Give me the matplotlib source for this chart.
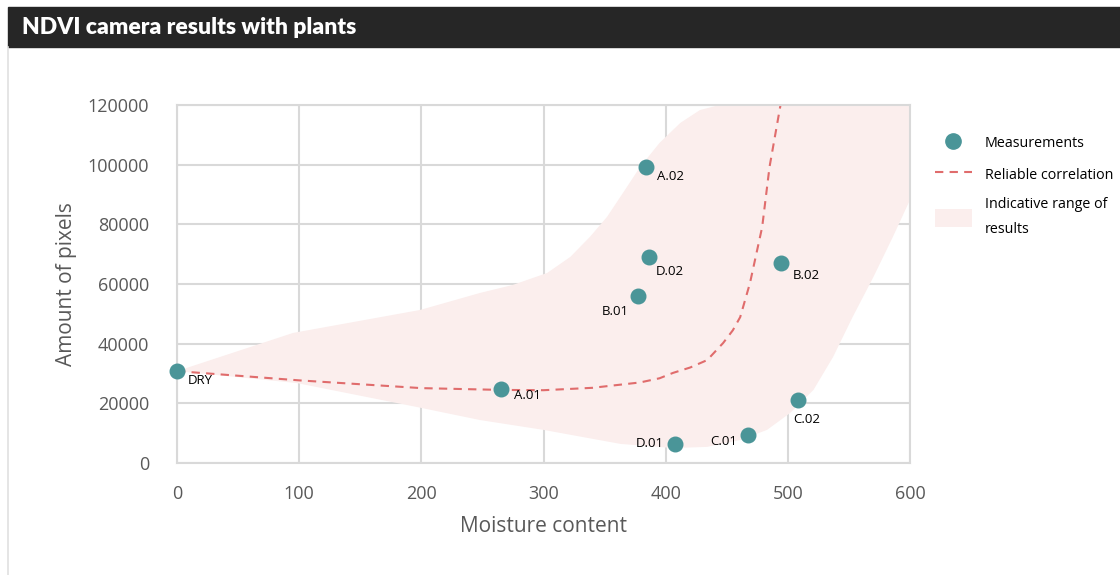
import matplotlib.pyplot as plt
from matplotlib.patches import Rectangle, Patch
from matplotlib.lines import Line2D

# measured samples
labels = ["DRY", "A.01", "A.02", "D.02", "B.01", "B.02", "C.02", "C.01", "D.01"]
moisture = [0, 265, 384, 386, 377, 494, 508, 467, 408]
pixels = [30800, 24800, 99200, 69000, 56000, 67000, 21100, 9400, 6400]

# trend line through the measurements
trend_x = [0, 100, 200, 265, 300, 340, 379, 395, 406, 420, 434, 447, 455, 461, 469, 479, 485, 494]
trend_y = [30800, 27700, 25100, 24500, 24400, 25200, 27000, 28400, 30200, 32000, 34500,
           40200, 44500, 48900, 60300, 79100, 99200, 120000]

# outline of the indicative range (upper edge left->right, then lower edge right->left)
band_x = [0, 95, 199, 248, 275, 303, 322, 338, 352, 365, 379, 395, 412, 428, 444,
          600, 600, 586, 570, 553, 537, 521, 502, 483, 461, 434, 406, 363, 300, 248,
          196, 98, 0]
band_y = [30800, 43600, 51300, 57000, 59700, 63700, 69100, 75800, 82500, 90500,
          99200, 107300, 114000, 118300, 120000,
          120000, 88200, 75800, 62300, 48900, 35500, 24500, 16800, 11100, 7700,
          5400, 5000, 6400, 11100, 14400, 18800, 26800, 30800]

# label offsets in pixels (dx, dy, ha)
label_pos = {
    "DRY": (11, -9, "left"), "A.01": (13, -6, "left"), "A.02": (11, -9, "left"),
    "D.02": (7, -14, "left"), "B.01": (-9, -16, "right"), "B.02": (12, -12, "left"),
    "C.02": (-4, -19, "left"), "C.01": (-10, -7, "right"), "D.01": (-12, 0, "right"),
}

teal = "#4a9598"
red = "#e06c6c"
pink = "#fbeeed"
grid = "#d9d9d9"
txt = "#595959"

plt.rcParams['font.family'] = ['Open Sans', 'DejaVu Sans']

fig = plt.figure(figsize=(11.2, 5.75), dpi=100)
fig.patch.set_facecolor("white")

# header bar
fig.patches.append(Rectangle((8 / 1120, 1 - 47 / 575), 1 - 8 / 1120, 40 / 575,
                             transform=fig.transFigure, color="#262626", zorder=0))
fig.lines.append(Line2D([8 / 1120, 8 / 1120], [0, 1 - 47 / 575], transform=fig.transFigure,
                        color="#e0e0e0", lw=1.2))
fig.text(22 / 1120, 1 - 27 / 575, "NDVI camera results with plants", color="white",
         fontsize=16.5, fontweight="heavy", va="center", ha="left", family=["Lato", "DejaVu Sans"])

ax = fig.add_axes([177 / 1120, 1 - 463 / 575, 733 / 1120, 358 / 575])
ax.set_xlim(0, 600)
ax.set_ylim(0, 120000)
ax.set_xticks(range(0, 601, 100))
ax.set_yticks(range(0, 120001, 20000))
ax.grid(True, color=grid, lw=1.5)
ax.set_axisbelow(True)
for s in ax.spines.values():
    s.set_color(grid)
    s.set_linewidth(1.5)
ax.tick_params(length=0, labelsize=13, labelcolor=txt)
ax.tick_params(axis="x", pad=16)
ax.tick_params(axis="y", pad=20)
ax.set_xlabel("Moisture content", fontsize=15, color=txt, labelpad=9)
ax.set_ylabel("Amount of pixels", fontsize=15, color=txt, labelpad=8)

ax.fill(band_x, band_y, color=pink, lw=0, zorder=1)
ax.plot(trend_x, trend_y, color=red, ls=(0, (4, 3)), lw=1.5, zorder=2)
ax.scatter(moisture, pixels, s=110, color=teal, zorder=3, clip_on=False)

for name, x, y in zip(labels, moisture, pixels):
    dx, dy, ha = label_pos[name]
    ax.annotate(name, (x, y), xytext=(dx * 0.72, dy * 0.72), textcoords="offset points",
                fontsize=9.5, ha=ha, va="center", color="black", zorder=4)

handles = [
    Line2D([], [], marker="o", ls="none", color=teal, markersize=11),
    Line2D([], [], color=red, ls=(0, (4, 3)), lw=1.5),
    Patch(facecolor=pink, edgecolor="none"),
]
leg = fig.legend(handles, ["Measurements", "Reliable correlation", "Indicative range of\nresults"],
                 loc="upper left", bbox_to_anchor=(922 / 1120, 1 - 121 / 575), frameon=False,
                 fontsize=10.3, handlelength=2.6, labelspacing=1.0, handletextpad=0.9,
                 handleheight=1.5)
for t in leg.get_texts():
    t.set_linespacing(1.85)

fig.savefig("out.png", dpi=100)
